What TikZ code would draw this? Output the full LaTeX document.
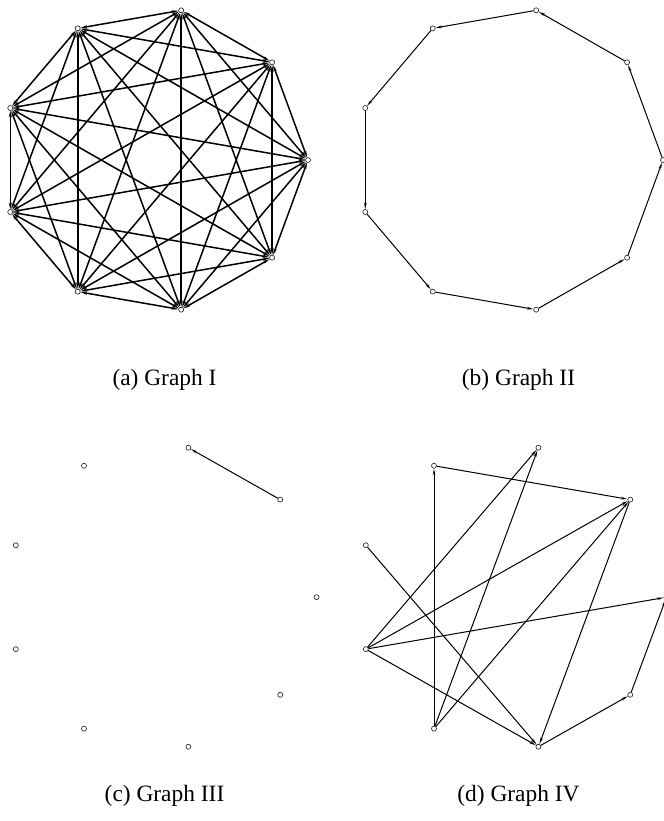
\documentclass[tikz,border=0pt]{standalone}
\usepackage{fontspec}
\setmainfont{Liberation Serif}
\usetikzlibrary{arrows.meta}
\begin{document}
\begin{tikzpicture}[x=1bp,y=-1bp,
  vtx/.style={circle,draw=black!85,line width=0.65bp,inner sep=0pt,minimum size=5bp},
  full/.style={line width=1.5bp,{Stealth[length=6.5bp,width=3bp]}-{Stealth[length=6.5bp,width=3bp]}},
  arc/.style={line width=1bp,-{Stealth[length=6.5bp,width=2.6bp]}},
  lab/.style={anchor=base,font=\fontsize{23.5}{28}\selectfont,inner sep=0pt}]
\useasboundingbox (0,0) rectangle (664,821);
% Graph I
\foreach \i in {0,...,8}
  \node[vtx] (a\i) at ({154.5+153.5*cos(40*\i)},{160-152*sin(40*\i)}) {};
\foreach \i in {0,...,7}{
  \pgfmathtruncatemacro\nxt{\i+1}
  \foreach \j in {\nxt,...,8} \draw[full] (a\i) -- (a\j);
}
% Graph II
\foreach \i in {0,...,8}
  \node[vtx] (b\i) at ({509.5+153.5*cos(40*\i)},{160-152*sin(40*\i)}) {};
\foreach \i/\j in {0/1,1/2,2/3,3/4,4/5,5/6,6/7,7/8,8/0}
  \draw[arc] (b\i) -- (b\j);
% Graph III
\foreach \i in {0,...,8}
  \node[vtx] (c\i) at ({161.5+155*cos(40*\i)},{597.2-151.8*sin(40*\i)}) {};
\draw[arc] (c1) -- (c2);
% Graph IV
\foreach \i in {0,...,8}
  \node[vtx] (d\i) at ({511.5+155*cos(40*\i)},{597.2-151.8*sin(40*\i)}) {};
\foreach \i/\j in {3/1,6/3,5/2,6/2,5/1,5/0,5/7,4/7,6/1,1/7,7/8,8/0}
  \draw[arc] (d\i) -- (d\j);
% captions
\node[lab] (la) at (164.5,385) {(a) Graph I};
\node[lab] (lb) at (518.5,385) {(b) Graph II};
\node[lab] (lc) at (164.5,801) {(c) Graph III};
\node[lab] (ld) at (518.5,801) {(d) Graph IV};
\end{tikzpicture}
\end{document}
